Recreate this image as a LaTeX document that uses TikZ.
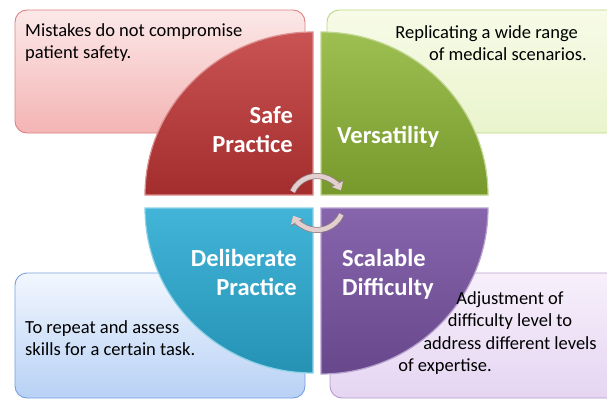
\documentclass[tikz,border=0pt]{standalone}
\usepackage{fontspec}
\setmainfont{Carlito}
\usepackage{tikz}
\usetikzlibrary{shapes,arrows,arrows.meta,backgrounds,%
positioning,fit,calc,shadows%
}
\definecolor{redq}{RGB}{192,52,52}
\definecolor{greenq}{RGB}{140,180,52}
\definecolor{blueq}{RGB}{44,172,212}
\definecolor{purpleq}{RGB}{122,84,164}
\definecolor{cycl}{RGB}{226,208,208}
\definecolor{cycd}{RGB}{150,128,128}
\tikzset{
  note/.style={rounded corners=12pt,line width=0.9pt},
  quad/.style={line width=1.2pt},
  title/.style={inner sep=0pt,text=white,font=\fontsize{24.5}{29}\selectfont\bfseries},
  body/.style={inner sep=0pt,text=black,font=\fontsize{18.5}{22.5}\selectfont},
  cyc/.style={line width=4.5pt,draw=cycl,-{Triangle[length=7pt,width=12pt]},
    preaction={draw=cycd,line width=6pt,-{Triangle[length=8.5pt,width=14pt]}}},
}
\begin{document}
\begin{tikzpicture}[x=1pt,y=1pt]
\useasboundingbox (0,0) rectangle (607,400);
\clip (0,0) rectangle (607,400);
%% notes behind
\draw [note,draw={rgb,255:red,220;green,130;blue,130},top color={rgb,255:red,252;green,232;blue,232},bottom color={rgb,255:red,244;green,180;blue,180}] (15,267) rectangle (305,390);
\draw [note,draw={rgb,255:red,190;green,215;blue,130},top color={rgb,255:red,247;green,251;blue,232},bottom color={rgb,255:red,234;green,244;blue,204}] (327,267) rectangle (630,390);
\draw [note,draw={rgb,255:red,120;green,160;blue,220},top color={rgb,255:red,242;green,247;blue,254},bottom color={rgb,255:red,184;green,209;blue,245}] (15,2) rectangle (305,127);
\draw [note,draw={rgb,255:red,180;green,155;blue,205},top color={rgb,255:red,247;green,240;blue,251},bottom color={rgb,255:red,229;green,213;blue,242}] (330,2) rectangle (630,127);
%% quadrants
\draw [quad,draw=redq!55!white,top color=redq!85!white,bottom color=redq!85!black] (313,205) -- (145,205) arc[start angle=180,end angle=90,x radius=168pt,y radius=163pt] -- cycle;
\draw [quad,draw=greenq!55!white,top color=greenq!85!white,bottom color=greenq!85!black] (321,205) -- (321,368) arc[start angle=90,end angle=0,x radius=167pt,y radius=163pt] -- cycle;
\draw [quad,draw=blueq!55!white,top color=blueq!90!white,bottom color=blueq!85!black] (313,192) -- (145,192) arc[start angle=180,end angle=270,x radius=168pt,y radius=165pt] -- cycle;
\draw [quad,draw=purpleq!55!white,top color=purpleq!90!white,bottom color=purpleq!85!black] (321,192) -- (488,192) arc[start angle=0,end angle=-90,x radius=167pt,y radius=166pt] -- cycle;
%% titles
\node (safe) at (293,294) [title,anchor=north east,align=right] {Safe\\Practice};
\node (vers) at (337,274) [title,anchor=north west,align=left] {Versatility};
\node (deli) at (297,151) [title,anchor=north east,align=right] {Deliberate\\Practice};
\node (scal) at (342,151) [title,anchor=north west,align=left] {Scalable\\Difficulty};
%% texts
\node (safetxt) at (25,377) [body,anchor=north west,align=left] {Mistakes do not compromise\\patient safety.};
\node (verstxt) at (587,375) [body,anchor=north east,align=right] {Replicating a wide range\hspace*{9pt}\\of medical scenarios.};
\node (delitxt) at (25,80) [body,anchor=north west,align=left] {To repeat and assess\\skills for a certain task.};
\node (scaltxt) at (510,109) [body,anchor=north,align=center] {Adjustment of\\difficulty level to\\address different levels\\of expertise.\hspace*{130pt}};
%% cycle arrows
\coordinate (c) at (317,197);
\draw [cyc] ([shift={(155:27)}]c) arc[start angle=155,end angle=28,radius=27pt];
\draw [cyc] ([shift={(-25:27)}]c) arc[start angle=-25,end angle=-152,radius=27pt];
%
\end{tikzpicture}
\end{document}
